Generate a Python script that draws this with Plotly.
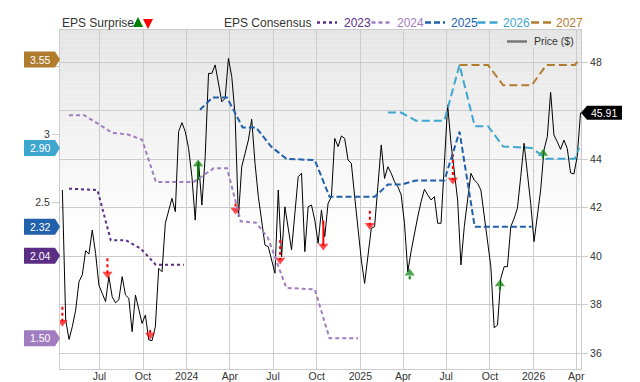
import plotly.graph_objects as go
import pandas as pd

# ---------------- data ----------------
price_start = "2023-04-14"
price_values = [
    42.72, 37.36, 36.56, 37.09, 37.77, 38.94, 39.22, 40.22, 40.08, 41.07,
    40.11, 38.80, 38.46, 38.12, 39.15, 38.32, 38.07, 38.19, 39.15, 38.39,
    38.26, 36.88, 38.39, 37.77, 37.22, 37.57, 36.54, 36.51, 37.09, 39.49,
    39.35, 41.35, 41.90, 42.38, 41.83, 45.13, 45.50, 45.13, 44.44, 43.27,
    41.48, 43.89, 42.10, 44.10, 47.53, 47.53, 47.88, 47.19, 46.36, 46.50,
    48.15, 47.39, 45.81, 41.62,
    43.68, 44.23, 44.78, 45.64, 43.82, 42.45, 41.35, 40.45, 40.38, 39.84,
    39.29, 42.72, 39.97, 42.03, 41.07, 40.25, 41.76, 43.27, 43.41, 40.18,
    42.03, 42.10, 41.48, 40.52, 41.90, 40.80, 42.17, 42.45, 44.85, 44.51,
    44.95, 44.85, 43.96, 43.82, 42.45, 41.07, 39.84, 38.87, 39.97, 41.14,
    41.21, 43.00, 44.58, 43.20, 43.68, 43.41, 43.06, 42.86, 42.52, 41.35,
    39.35, 40.20, 41.00,
    41.62, 42.24, 42.75, 42.52, 42.31, 42.45, 41.35, 41.35, 43.55, 46.23,
    44.65, 43.55, 42.31, 39.63, 41.21, 42.31, 43.41, 43.13, 43.00, 42.72,
    41.62, 40.52, 39.56, 37.04, 37.15, 39.08, 39.56, 39.56, 41.21, 41.55,
    41.97, 43.27, 44.65, 43.41, 42.17, 40.59, 41.62, 42.72, 44.37, 44.92,
    46.75, 44.99, 44.71, 44.40, 44.78, 44.44, 43.43, 43.38, 44.10, 45.91,
]
price_dates = pd.date_range(price_start, periods=len(price_values), freq="7D")
last_price = 45.91

eps_2023_dates = ["2023-04-28", "2023-06-27", "2023-07-25", "2023-08-26",
                  "2023-09-26", "2023-10-28", "2023-12-26"]
eps_2023 = [2.60, 2.59, 2.22, 2.22, 2.16, 2.04, 2.04]

eps_2024_dates = ["2023-04-28", "2023-05-30", "2023-06-27", "2023-07-28", "2023-08-29",
                  "2023-09-29", "2023-10-28", "2024-01-16", "2024-02-27", "2024-03-26",
                  "2024-04-24", "2024-05-26", "2024-06-20", "2024-07-29", "2024-09-27",
                  "2024-10-28", "2024-12-27"]
eps_2024 = [3.14, 3.14, 3.08, 3.01, 3.00, 2.96, 2.65, 2.65, 2.75, 2.75,
            2.36, 2.35, 2.24, 1.87, 1.86, 1.50, 1.50]

eps_2025_dates = ["2024-01-29", "2024-02-24", "2024-03-26", "2024-04-28", "2024-05-26",
                  "2024-06-27", "2024-07-29", "2024-09-27", "2024-10-28", "2025-01-31",
                  "2025-02-28", "2025-03-28", "2025-04-28", "2025-06-27", "2025-07-29",
                  "2025-08-30", "2025-12-28"]
eps_2025 = [3.18, 3.27, 3.27, 3.05, 3.05, 2.91, 2.82, 2.81, 2.54, 2.54,
            2.63, 2.63, 2.66, 2.66, 3.02, 2.32, 2.32]

eps_2026_dates = ["2025-02-28", "2025-03-28", "2025-04-28", "2025-06-27", "2025-07-29",
                  "2025-08-30", "2025-09-27", "2025-10-29", "2025-12-28", "2026-01-28",
                  "2026-03-29", "2026-04-07"]
eps_2026 = [3.16, 3.16, 3.10, 3.10, 3.51, 3.06, 3.06, 2.91, 2.90, 2.82, 2.82, 2.90]

eps_2027_dates = ["2025-07-29", "2025-09-27", "2025-10-29", "2025-12-28", "2026-01-28",
                  "2026-03-29", "2026-04-07"]
eps_2027 = [3.51, 3.51, 3.36, 3.36, 3.51, 3.51, 3.55]

# EPS surprise arrows (price-axis levels: start of arrow, arrow head)
miss_dates = ["2023-04-14", "2023-07-18", "2023-10-16", "2024-04-13",
              "2024-07-16", "2024-10-15", "2025-01-21", "2025-07-15"]
miss_start = [37.91, 39.91, 36.95, 42.17, 40.66, 41.46, 41.87, 44.21]
miss_head = [37.27, 39.26, 36.74, 41.90, 39.84, 40.41, 41.27, 43.13]

beat_dates = ["2024-01-25", "2025-04-15", "2025-10-22", "2026-01-21"]
beat_start = [43.13, 39.04, 38.60, 44.03]
beat_head = [43.79, 39.29, 38.85, 44.23]

tick_dates = ["2023-07-01", "2023-10-01", "2024-01-01", "2024-04-01", "2024-07-01",
              "2024-10-01", "2025-01-01", "2025-04-01", "2025-07-01", "2025-10-01",
              "2026-01-01", "2026-04-01"]
tick_text = ["Jul", "Oct", "2024", "Apr", "Jul", "Oct", "2025", "Apr", "Jul", "Oct",
             "2026", "Apr"]

price_ticks = [36, 38, 40, 42, 44, 46, 48]
price_tick_text = ["36", "38", "40", "42", "44", "", "48"]   # 46 sits under the price tag
eps_ticks = [2.5, 3, 3.5]
eps_tick_text = ["2.5", "3", ""]                            # 3.5 sits under the 3.55 tag

years = ["2023", "2024", "2025", "2026", "2027"]
eps_dates = [eps_2023_dates, eps_2024_dates, eps_2025_dates, eps_2026_dates, eps_2027_dates]
eps_vals = [eps_2023, eps_2024, eps_2025, eps_2026, eps_2027]
eps_last_labels = ["2.04", "1.50", "2.32", "2.90", "3.55"]

# ---------------- style ----------------
OFF = 8                      # default page body margin of the html page
W, H = 640 - OFF, 382 - OFF
L, R, T, B = 60 - OFF, 59, 30 - OFF, 13
PW, PH = W - L - R, H - T - B
FONT = "Liberation Sans, Arial, sans-serif"
TXT = "#333333"
GRID = "#cccccc"

colors = ["#5b2d84", "#a27cc0", "#2160ab", "#3fa6d0", "#b07c2e"]
dashes = ["dot", "4px,3px", "6px,3px", "8px,4px", "8px,4px"]
tag_shift = [9, 0, 0, 0, 0]
miss_dash = ["dot", "dot", "dot", "dot", "dot", "solid", "dot", "dot"]
beat_dash = ["solid", "dot", "dot", "dot"]


def px2x(px):
    # page pixel -> paper x
    return (px - OFF - L) / PW


def py2y(py):
    # page pixel -> paper y
    return 1 - (py - OFF - T) / PH


fig = go.Figure()

# price line (main y axis, right side)
fig.add_trace(go.Scatter(x=price_dates, y=price_values, mode="lines",
                         line=dict(color="#000000", width=1), yaxis="y",
                         hoverinfo="skip", showlegend=False))

# consensus lines (left EPS axis)
for yr, d, v, c, ds in zip(years, eps_dates, eps_vals, colors, dashes):
    fig.add_trace(go.Scatter(x=d, y=v, mode="lines", yaxis="y2",
                             line=dict(color=c, width=2, dash=ds),
                             name=yr, showlegend=False, hoverinfo="skip"))

# surprise arrows
for d, s, h, ds in zip(miss_dates, miss_start, miss_head, miss_dash):
    fig.add_trace(go.Scatter(x=[d, d], y=[s, h], mode="lines+markers", yaxis="y",
                             line=dict(color="#ff0000", width=2, dash=ds),
                             marker=dict(symbol="triangle-down", size=[0, 9], color="#ff0000",
                                         line=dict(width=0)),
                             showlegend=False, hoverinfo="skip"))
for d, s, h, ds in zip(beat_dates, beat_start, beat_head, beat_dash):
    fig.add_trace(go.Scatter(x=[d, d], y=[s, h], mode="lines+markers", yaxis="y",
                             line=dict(color="#008000", width=2, dash=ds),
                             marker=dict(symbol="triangle-up", size=[0, 9], color="#008000",
                                         line=dict(width=0)),
                             showlegend=False, hoverinfo="skip"))

shapes = []
annotations = []

# gradient background
n_bands = 40
top_px, fade_px = 30, 235
for i in range(n_bands):
    y0p = top_px + (fade_px - top_px) * i / n_bands
    y1p = top_px + (fade_px - top_px) * (i + 1) / n_bands
    g = int(round(229 + (255 - 229) * (i + 0.5) / n_bands))
    shapes.append(dict(type="rect", xref="paper", yref="paper", x0=0, x1=1,
                       y0=py2y(y1p), y1=py2y(y0p), layer="below",
                       line=dict(width=0), fillcolor=f"rgb({g},{g},{g})"))

# price legend box inside plot
shapes.append(dict(type="rect", xref="paper", yref="paper", x0=px2x(500), x1=px2x(574),
                   y0=py2y(48), y1=py2y(30.5), layer="above", line=dict(width=0),
                   fillcolor="rgb(230,230,230)"))
shapes.append(dict(type="line", xref="paper", yref="paper", x0=px2x(507), x1=px2x(527),
                   y0=py2y(41.5), y1=py2y(41.5), layer="above",
                   line=dict(color="#777777", width=2.5)))
annotations.append(dict(xref="paper", yref="paper", x=px2x(532), y=py2y(41.5),
                        xanchor="left", yanchor="middle", showarrow=False,
                        text="Price ($)", font=dict(family=FONT, size=10.5, color=TXT)))

# top legend
annotations.append(dict(xref="paper", yref="paper", x=px2x(60), y=py2y(22.5),
                        xanchor="left", yanchor="middle", showarrow=False,
                        text="EPS Surprise", font=dict(family=FONT, size=12, color=TXT)))
annotations.append(dict(xref="paper", yref="paper", x=px2x(138), y=py2y(17),
                        ax=0, ay=11, showarrow=True, arrowhead=2, arrowsize=1,
                        arrowwidth=2, arrowcolor="#008000", text=""))
annotations.append(dict(xref="paper", yref="paper", x=px2x(148), y=py2y(29),
                        ax=0, ay=-11, showarrow=True, arrowhead=2, arrowsize=1,
                        arrowwidth=2, arrowcolor="#ff0000", text=""))
annotations.append(dict(xref="paper", yref="paper", x=px2x(222), y=py2y(22.5),
                        xanchor="left", yanchor="middle", showarrow=False,
                        text="EPS Consensus", font=dict(family=FONT, size=12, color=TXT)))
leg_line_x = [317, 371.5, 425, 477.5, 531]
leg_text_x = [341.5, 395, 448.5, 501, 553.5]
for yr, c, ds, lx, tx in zip(years, colors, dashes, leg_line_x, leg_text_x):
    shapes.append(dict(type="line", xref="paper", yref="paper", x0=px2x(lx), x1=px2x(lx + 20),
                       y0=py2y(22.5), y1=py2y(22.5), line=dict(color=c, width=2.5, dash=ds)))
    annotations.append(dict(xref="paper", yref="paper", x=px2x(tx), y=py2y(22.5),
                            xanchor="left", yanchor="middle", showarrow=False, text=yr,
                            font=dict(family=FONT, size=12, color=c)))

# left value tags for last consensus values
for v, lab, c, sh in zip([vals[-1] for vals in eps_vals], eps_last_labels, colors, tag_shift):
    shapes.append(dict(type="path", xref="paper", xsizemode="pixel", xanchor=0,
                       yref="y2", ysizemode="pixel", yanchor=v,
                       path=f"M -36,{-8 + sh} L -5,{-8 + sh} L 0,{sh} L -5,{8 + sh} L -36,{8 + sh} Z",
                       fillcolor=c, line=dict(width=0), layer="above"))
    annotations.append(dict(xref="paper", yref="y2", x=0, y=v, xshift=-20, yshift=sh,
                            xanchor="center", yanchor="middle", showarrow=False, text=lab,
                            font=dict(family=FONT, size=10.5, color="#ffffff")))

# right price tag
shapes.append(dict(type="path", xref="paper", xsizemode="pixel", xanchor=1,
                   yref="y", ysizemode="pixel", yanchor=last_price,
                   path="M 0,0 L 6,-7 L 41,-7 L 41,7 L 6,7 Z",
                   fillcolor="#000000", line=dict(width=0), layer="above"))
annotations.append(dict(xref="paper", yref="y", x=1, y=last_price, xshift=23,
                        xanchor="center", yanchor="middle", showarrow=False,
                        text=f"{last_price:.2f}",
                        font=dict(family=FONT, size=10.5, color="#ffffff")))

fig.update_layout(
    width=W, height=H, autosize=False,
    margin=dict(l=L, r=R, t=T, b=B, pad=0, autoexpand=False),
    paper_bgcolor="#ffffff", plot_bgcolor="#ffffff",
    font=dict(family=FONT, size=10.5, color=TXT),
    showlegend=False,
    shapes=shapes, annotations=annotations,
    xaxis=dict(type="date", range=["2023-04-09", "2026-04-11"], automargin=False,
               tickvals=tick_dates, ticktext=tick_text, ticks="",
               ticklabelstandoff=-3,
               showgrid=True, gridcolor=GRID, gridwidth=1, zeroline=False,
               showline=True, linecolor=GRID, mirror=True,
               tickfont=dict(family=FONT, size=10.5, color=TXT)),
    yaxis=dict(side="right", range=[35.34, 49.32], tickvals=price_ticks,
               ticktext=price_tick_text, automargin=False,
               showgrid=True, gridcolor=GRID, gridwidth=1, zeroline=False,
               showline=True, linecolor=GRID, mirror=True,
               ticks="outside", ticklen=6, tickcolor=GRID,
               tickfont=dict(family=FONT, size=10.5, color=TXT)),
    yaxis2=dict(overlaying="y", side="left", range=[1.274, 3.767], tickvals=eps_ticks,
                ticktext=eps_tick_text, automargin=False,
                showgrid=False, zeroline=False, ticks="outside", ticklen=7,
                tickcolor=GRID, tickfont=dict(family=FONT, size=10.5, color=TXT)),
)

fig.write_html("out.html")
